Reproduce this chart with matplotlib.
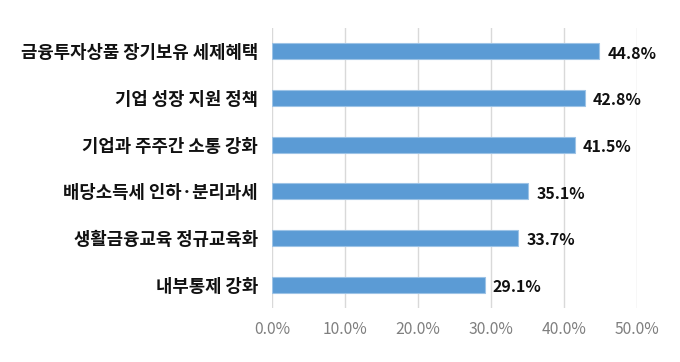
import matplotlib
matplotlib.use("Agg")
import matplotlib.pyplot as plt

plt.rcParams["font.family"] = ["Noto Sans CJK KR", "DejaVu Sans"]

categories = ["금융투자상품 장기보유 세제혜택", "기업 성장 지원 정책", "기업과 주주간 소통 강화",
              "배당소득세 인하·분리과세", "생활금융교육 정규교육화", "내부통제 강화"]
values = [44.8, 42.8, 41.5, 35.1, 33.7, 29.1]
xticks = [0, 10, 20, 30, 40, 50]

fig = plt.figure(figsize=(6.8, 3.62), dpi=100)
ax = fig.add_axes([0.4, 0.149, 0.537, 0.774])

y = list(range(len(categories)))
ax.barh(y, values, height=0.34, color="#5B9BD5", edgecolor="#9DC3E6", linewidth=0.8, zorder=3)
for yi, v in zip(y, values):
    ax.text(v + 1.1, yi + 0.05, f"{v:.1f}%", va="center", ha="left",
            fontsize=11.5, fontweight="bold", color="#111111")

ax.set_ylim(len(categories) - 0.5, -0.5)
ax.set_xlim(0, 50)
ax.set_xticks(xticks)
ax.set_xticklabels([f"{t:.1f}%" for t in xticks], color="#7F7F7F", fontsize=11.3)
ax.set_yticks(y)
ax.set_yticklabels(categories, fontsize=12.8, fontweight="bold", color="#111111")
ax.tick_params(axis="both", length=0)
ax.tick_params(axis="x", pad=9)
ax.tick_params(axis="y", pad=10)
ax.grid(axis="x", color="#D9D9D9", linewidth=1, zorder=0)
for s in ax.spines.values():
    s.set_visible(False)

fig.savefig("out.png", dpi=100)
